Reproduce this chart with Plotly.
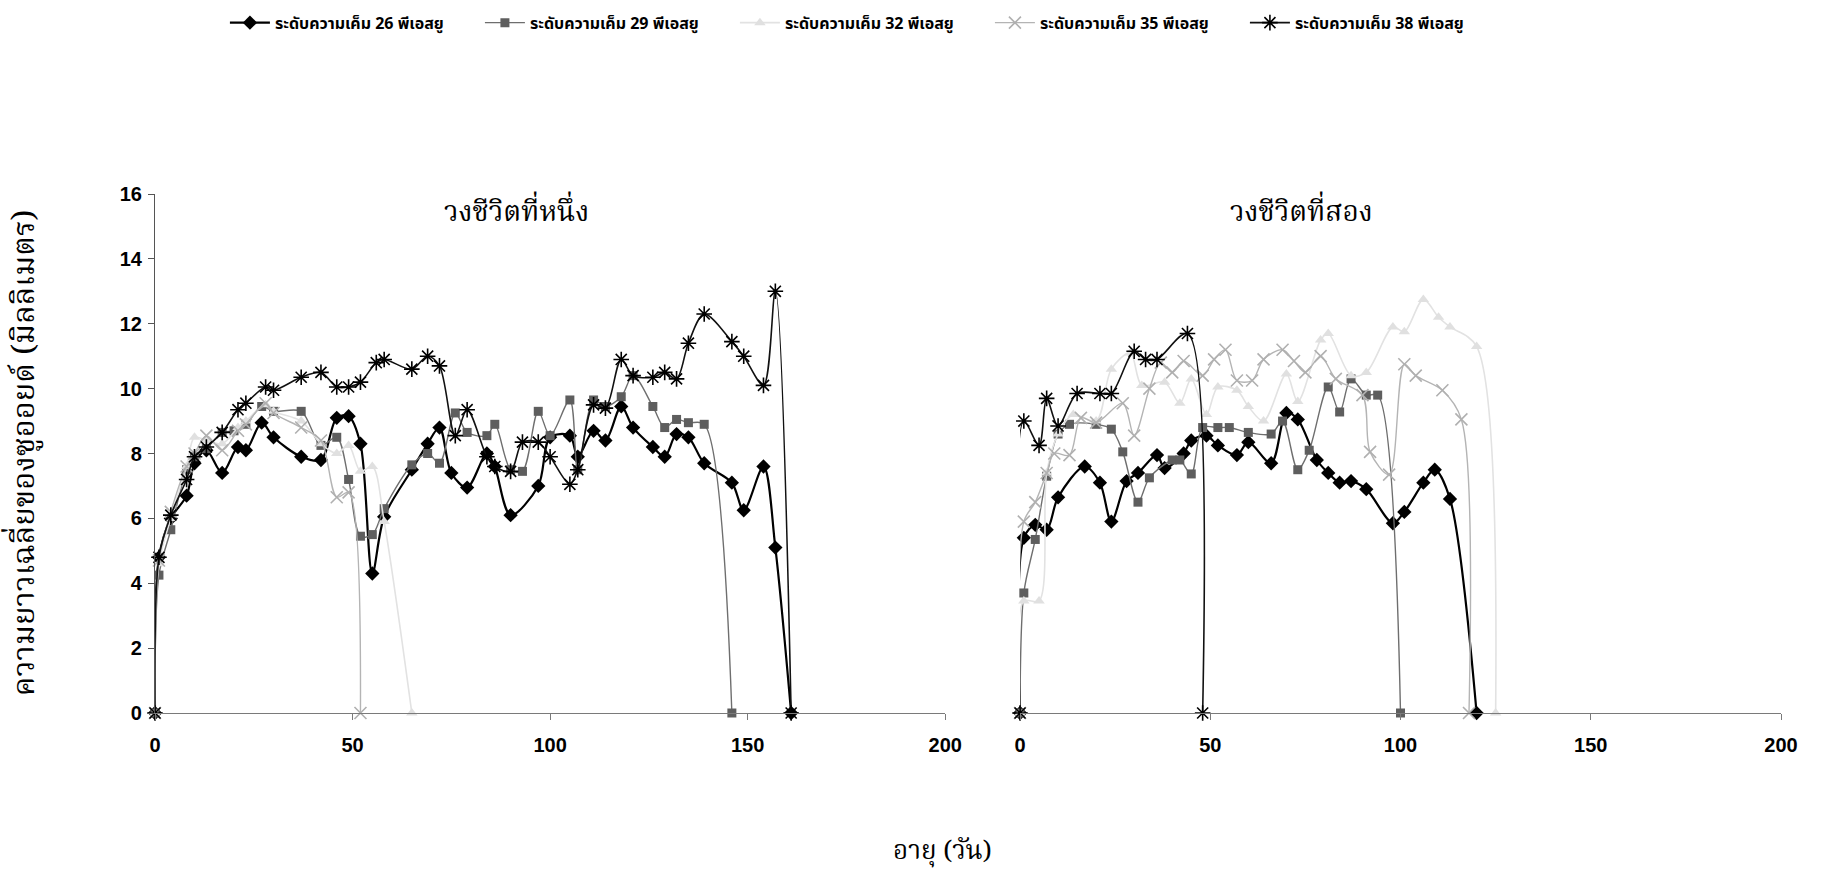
import plotly.graph_objects as go
from plotly.subplots import make_subplots

# ---- first life cycle (days, mean length in mm) ----
c1_x_26 = [0, 1, 4, 8, 10, 13, 17, 21, 23, 27, 30, 37, 42, 46, 49, 52, 55, 58, 65, 69, 72, 75, 79, 84, 86, 90, 97, 100, 105, 107, 111, 114, 118, 121, 126, 129, 132, 135, 139, 146, 149, 154, 157, 161]
c1_y_26 = [0, 4.8, 6.0, 6.7, 7.7, 8.1, 7.4, 8.2, 8.1, 8.95, 8.5, 7.9, 7.8, 9.1, 9.15, 8.3, 4.3, 6.05, 7.5, 8.3, 8.8, 7.4, 6.95, 8.0, 7.6, 6.1, 7.0, 8.5, 8.55, 7.9, 8.7, 8.4, 9.45, 8.8, 8.2, 7.9, 8.6, 8.5, 7.7, 7.1, 6.25, 7.6, 5.1, 0]

c1_x_29 = [0, 1, 4, 8, 10, 13, 17, 20, 23, 27, 30, 37, 42, 46, 49, 52, 55, 58, 65, 69, 72, 76, 79, 84, 86, 90, 93, 97, 100, 105, 107, 111, 114, 118, 121, 126, 129, 132, 135, 139, 146]
c1_y_29 = [0, 4.25, 5.65, 7.5, 7.9, 8.15, 8.65, 8.7, 8.9, 9.45, 9.3, 9.3, 8.25, 8.5, 7.2, 5.45, 5.5, 6.3, 7.65, 8.0, 7.7, 9.25, 8.65, 8.55, 8.9, 7.5, 7.45, 9.3, 8.55, 9.65, 7.5, 9.65, 9.45, 9.75, 10.4, 9.45, 8.8, 9.05, 8.95, 8.9, 0]

c1_x_32 = [0, 1, 4, 8, 10, 13, 17, 21, 23, 28, 30, 37, 42, 46, 49, 52, 55, 58, 65]
c1_y_32 = [0, 4.6, 6.0, 7.6, 8.5, 8.4, 8.3, 8.8, 9.0, 9.5, 9.3, 9.0, 8.3, 8.0, 8.25, 7.45, 7.6, 5.9, 0]

c1_x_35 = [0, 1, 4, 8, 10, 13, 17, 21, 23, 28, 30, 37, 42, 46, 49, 52]
c1_y_35 = [0, 4.7, 6.2, 7.6, 8.0, 8.55, 8.1, 8.7, 8.9, 9.55, 9.25, 8.8, 8.4, 6.65, 6.8, 0]

c1_x_38 = [0, 1, 4, 8, 10, 13, 17, 21, 23, 28, 30, 37, 42, 46, 49, 52, 56, 58, 65, 69, 72, 76, 79, 84, 86, 90, 93, 97, 100, 105, 107, 111, 114, 118, 121, 126, 129, 132, 135, 139, 146, 149, 154, 157, 161]
c1_y_38 = [0, 4.8, 6.1, 7.2, 7.9, 8.2, 8.65, 9.35, 9.55, 10.05, 9.95, 10.35, 10.5, 10.05, 10.05, 10.2, 10.8, 10.9, 10.6, 11.0, 10.7, 8.55, 9.35, 7.9, 7.6, 7.45, 8.35, 8.35, 7.9, 7.05, 7.5, 9.5, 9.4, 10.9, 10.4, 10.35, 10.5, 10.3, 11.4, 12.3, 11.45, 11.0, 10.1, 13.0, 0]

# ---- second life cycle ----
c2_x_26 = [0, 1, 4, 7, 10, 17, 21, 24, 28, 31, 36, 38, 43, 45, 49, 52, 57, 60, 66, 70, 73, 78, 81, 84, 87, 91, 98, 101, 106, 109, 113, 120]
c2_y_26 = [0, 5.4, 5.8, 5.65, 6.65, 7.6, 7.1, 5.9, 7.15, 7.4, 7.95, 7.55, 8.0, 8.4, 8.55, 8.25, 7.95, 8.35, 7.7, 9.25, 9.05, 7.8, 7.4, 7.1, 7.15, 6.9, 5.85, 6.2, 7.1, 7.5, 6.6, 0]

c2_x_29 = [0, 1, 4, 7, 10, 13, 20, 24, 27, 31, 34, 40, 42, 45, 48, 52, 55, 60, 66, 69, 73, 76, 81, 84, 87, 91, 94, 100]
c2_y_29 = [0, 3.7, 5.35, 7.3, 8.6, 8.9, 8.9, 8.75, 8.05, 6.5, 7.25, 7.8, 7.8, 7.37, 8.8, 8.8, 8.8, 8.65, 8.6, 9.0, 7.5, 8.1, 10.05, 9.28, 10.3, 9.8, 9.8, 0]

c2_x_32 = [0, 1, 5, 7, 10, 14, 20, 24, 29, 32, 38, 42, 45, 49, 52, 57, 60, 64, 70, 73, 79, 81, 87, 91, 98, 101, 106, 110, 113, 120, 125]
c2_y_32 = [0, 3.45, 3.45, 7.4, 8.6, 9.2, 9.0, 10.6, 11.1, 10.1, 10.2, 9.55, 10.3, 9.2, 10.05, 9.95, 9.45, 9.0, 10.45, 9.6, 11.5, 11.7, 10.4, 10.5, 11.9, 11.75, 12.75, 12.2, 11.9, 11.3, 0]

c2_x_35 = [0, 1, 4, 7, 9, 13, 16, 20, 27, 30, 34, 37, 40, 43, 48, 51, 54, 57, 61, 64, 69, 72, 75, 79, 83, 90, 92, 97, 101, 104, 111, 116, 118]
c2_y_35 = [0, 5.9, 6.5, 7.4, 8.0, 7.95, 9.1, 8.95, 9.55, 8.55, 10.0, 10.8, 10.5, 10.85, 10.4, 10.9, 11.2, 10.25, 10.25, 10.9, 11.2, 10.85, 10.5, 11.0, 10.3, 9.8, 8.05, 7.35, 10.75, 10.4, 9.95, 9.05, 0]

c2_x_38 = [0, 1, 5, 7, 10, 15, 21, 24, 30, 33, 36, 44, 48]
c2_y_38 = [0, 9.0, 8.25, 9.7, 8.85, 9.85, 9.85, 9.85, 11.15, 10.9, 10.9, 11.7, 0]

legend_names = [
    "ระดับความเค็ม 26 พีเอสยู",
    "ระดับความเค็ม 29 พีเอสยู",
    "ระดับความเค็ม 32 พีเอสยู",
    "ระดับความเค็ม 35 พีเอสยู",
    "ระดับความเค็ม 38 พีเอสยู",
]
panel_titles = ["วงชีวิตที่หนึ่ง", "วงชีวิตที่สอง"]
x_title = "อายุ (วัน)"
y_title = "ความยาวเฉลี่ยของซูออยด์ (มิลลิเมตร)"

THAI = "Tahoma, 'Noto Sans Thai', 'Noto Serif Thai', Garuda, Loma, Norasi, 'TLWG Typo', sans-serif"
THAI_SERIF = "'Angsana New', 'Noto Serif Thai', Norasi, Kinnari, 'Noto Sans Thai', Garuda, serif"
NUM = "'Liberation Sans', Arial, sans-serif"

styles = [
    dict(line=dict(color="#000000", width=2.2),
         marker=dict(symbol="diamond", size=11, color="#000000")),
    dict(line=dict(color="#6e6e6e", width=1.4),
         marker=dict(symbol="square", size=9, color="#5e5e5e")),
    dict(line=dict(color="#e2e2e2", width=1.6),
         marker=dict(symbol="triangle-up", size=10, color="#e0e0e0")),
    dict(line=dict(color="#b4b4b4", width=1.4),
         marker=dict(symbol="x-thin-open", size=12, color="#b0b0b0",
                     line=dict(color="#b0b0b0", width=1.6))),
    dict(line=dict(color="#111111", width=1.6),
         marker=dict(symbol="asterisk-open", size=13, color="#000000",
                     line=dict(color="#000000", width=1.6))),
]

cycle1 = [(c1_x_26, c1_y_26), (c1_x_29, c1_y_29), (c1_x_32, c1_y_32),
          (c1_x_35, c1_y_35), (c1_x_38, c1_y_38)]
cycle2 = [(c2_x_26, c2_y_26), (c2_x_29, c2_y_29), (c2_x_32, c2_y_32),
          (c2_x_35, c2_y_35), (c2_x_38, c2_y_38)]

fig = make_subplots(rows=1, cols=2, horizontal_spacing=0.046)

for col, cycle in ((1, cycle1), (2, cycle2)):
    for i, (xs, ys) in enumerate(cycle):
        st = styles[i]
        fig.add_trace(
            go.Scatter(
                x=xs, y=ys, mode="lines+markers",
                name=legend_names[i], legendgroup=legend_names[i],
                showlegend=(col == 1),
                line=dict(color=st["line"]["color"], width=st["line"]["width"],
                          shape="spline", smoothing=0.9),
                marker=st["marker"],
                cliponaxis=False,
            ),
            row=1, col=col,
        )

axis_common = dict(range=[0, 200], dtick=50, tick0=0, showgrid=False, zeroline=False,
                   showline=True, linecolor="#7a7a7a", linewidth=1.2,
                   ticks="outside", ticklen=6, tickcolor="#7a7a7a",
                   ticklabelstandoff=8,
                   tickfont=dict(family=NUM, size=20, color="#000", weight="bold"))
fig.update_xaxes(**axis_common)
fig.update_xaxes(domain=[0, 0.486], row=1, col=1)
fig.update_xaxes(domain=[0.532, 1.0], row=1, col=2)

fig.update_yaxes(range=[0, 16], dtick=2, showgrid=False, zeroline=False,
                 showline=True, linecolor="#555555", linewidth=1.2,
                 ticks="outside", ticklen=6, tickcolor="#555555",
                 ticklabelstandoff=2,
                 tickfont=dict(family=NUM, size=20, color="#000", weight="bold"),
                 row=1, col=1)
fig.update_yaxes(range=[0, 16], showgrid=False, zeroline=False, showline=False,
                 showticklabels=False, ticks="", row=1, col=2)

annotations = [
    dict(text=panel_titles[0], x=0.2226, y=0.963, xref="paper", yref="paper",
         xanchor="center", yanchor="middle",
         showarrow=False, font=dict(family=THAI_SERIF, size=28, color="#000")),
    dict(text=panel_titles[1], x=0.7054, y=0.963, xref="paper", yref="paper",
         xanchor="center", yanchor="middle",
         showarrow=False, font=dict(family=THAI_SERIF, size=28, color="#000")),
    dict(text=x_title, x=0.4846, y=-0.268, xref="paper", yref="paper",
         xanchor="center", yanchor="middle",
         showarrow=False, font=dict(family=THAI_SERIF, size=26, color="#000")),
    dict(text=y_title, x=-0.0795, y=0.50, xref="paper", yref="paper", textangle=-90,
         xanchor="center", yanchor="middle",
         showarrow=False, font=dict(family=THAI_SERIF, size=31, color="#000")),
]

fig.update_layout(
    width=1823, height=879,
    margin=dict(l=155, r=42, t=194, b=166, autoexpand=False),
    paper_bgcolor="white", plot_bgcolor="white",
    annotations=annotations,
    legend=dict(orientation="h", x=0.043, xanchor="left", y=1.33, yanchor="middle",
                font=dict(family=THAI, size=16, color="#000", weight="bold"),
                itemwidth=40, entrywidth=200, bgcolor="rgba(0,0,0,0)"),
)

fig.write_html("out.html")
